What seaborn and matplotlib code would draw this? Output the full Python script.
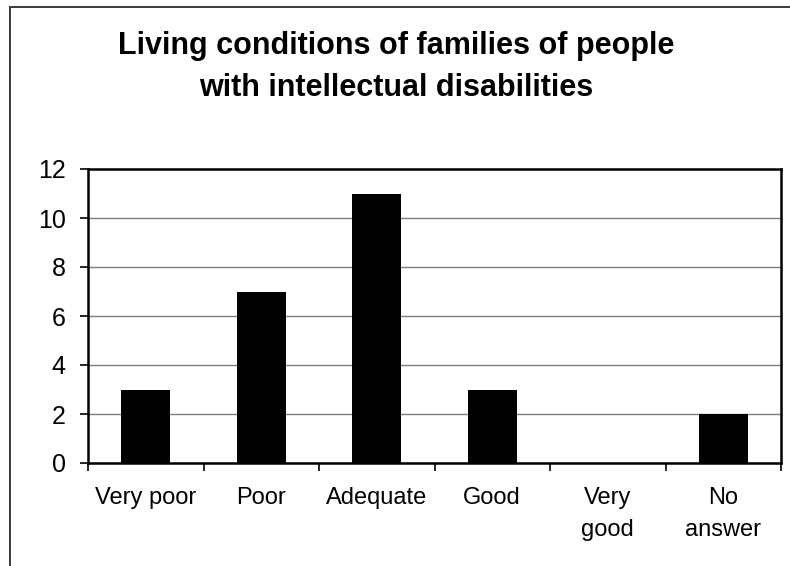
import matplotlib
matplotlib.use("Agg")
import matplotlib.pyplot as plt
from matplotlib.lines import Line2D
import seaborn as sns
import pandas as pd
import numpy as np

categories = ["Very poor", "Poor", "Adequate", "Good", "Very\ngood", "No\nanswer"]
values = [3, 7, 11, 3, 0, 2]
title = "Living conditions of families of people\nwith intellectual disabilities"

sns.set_theme(style="white")
plt.rcParams['font.family'] = ['Liberation Sans', 'DejaVu Sans']
plt.rcParams['text.color'] = 'black'
plt.rcParams['xtick.color'] = 'black'
plt.rcParams['ytick.color'] = 'black'

W, H = 790, 566
fig = plt.figure(figsize=(W / 100, H / 100), dpi=100)

# outer chart border (cropped at right and bottom)
bx, by = 10 / W, 1 - 7 / H
fig.add_artist(Line2D([bx, bx], [by, 0], color='#3a3a3a', lw=1.4, transform=fig.transFigure))
fig.add_artist(Line2D([bx, 1.0], [by, by], color='#3a3a3a', lw=1.4, transform=fig.transFigure))

left, right, top, bottom = 88, 781, 169, 463
ax = fig.add_axes([left / W, 1 - bottom / H, (right - left) / W, (bottom - top) / H])

df = pd.DataFrame({"cat": categories, "val": values})
sns.barplot(data=df, x="cat", y="val", color="black", saturation=1, width=0.42,
            ax=ax, zorder=3, edgecolor='black', linewidth=0)

ax.set_xlim(-0.5, len(categories) - 0.5)
ax.set_ylim(0, 12)
ax.set_yticks(np.arange(0, 13, 2))
ax.yaxis.grid(True, color='#7f7f7f', lw=1.0, zorder=0)
ax.set_axisbelow(True)

ax.set_xticks(np.arange(-0.5, len(categories), 1.0))
ax.set_xticklabels([])
ax.set_xticks(np.arange(len(categories)), minor=True)
ax.set_xticklabels(categories, minor=True, fontsize=17, linespacing=1.55)
ax.tick_params(axis='x', which='major', direction='out', length=6, width=1.2, color='black', bottom=True)
ax.tick_params(axis='x', which='minor', length=0, pad=17.5, bottom=True, labelcolor='black')
ax.tick_params(axis='y', direction='out', length=6, width=1.2, color='black', left=True,
               labelsize=18, pad=10, labelcolor='black')
ax.set_xlabel("")
ax.set_ylabel("")

for s in ax.spines.values():
    s.set_visible(True)
    s.set_color('black')
    s.set_linewidth(1.8)

fig.text(0.501, 1 - 31 / H, title, ha='center', va='top', fontsize=22,
         fontweight='bold', linespacing=1.5, color='black')

fig.savefig("out.png", dpi=100, facecolor='white')
